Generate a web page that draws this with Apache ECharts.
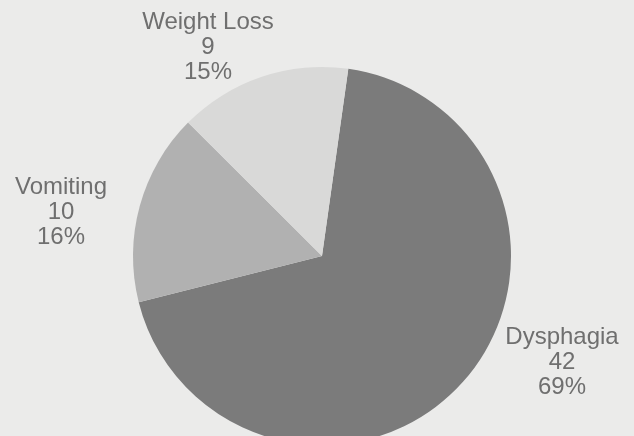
<!DOCTYPE html>
<html>
<head>
<meta charset="utf-8">
<script src="https://cdn.jsdelivr.net/npm/echarts@6/dist/echarts.min.js"></script>
<style>
  html, body { margin: 0; padding: 0; background: #ebebea; }
  #chart { width: 634px; height: 436px; }
</style>
</head>
<body>
<div id="chart"></div>
<script>
// Presenting symptoms
const categories = ['Dysphagia', 'Vomiting', 'Weight Loss'];
const counts = [42, 10, 9];

// Slice shades, darkest for the largest group
const sliceColors = ['#7b7b7b', '#b1b1b1', '#d9d9d8'];

// Where each label block sits (centre of the three-line block)
const labelSpots = [
  { x: 562, y: 362 },
  { x: 61, y: 212 },
  { x: 208, y: 47 }
];

const total = counts.reduce((a, b) => a + b, 0);

const chart = echarts.init(document.getElementById('chart'), null, { renderer: 'canvas' });

chart.setOption({
  backgroundColor: '#ebebea',
  animation: false,
  series: [{
    type: 'pie',
    center: [322, 256],
    radius: [0, 189],
    startAngle: 82,
    clockwise: true,
    avoidLabelOverlap: false,
    data: categories.map((name, i) => ({
      name: name,
      value: counts[i],
      itemStyle: { color: sliceColors[i] }
    })),
    itemStyle: { borderWidth: 0 },
    emphasis: { disabled: true },
    labelLine: { show: false },
    label: {
      show: true,
      position: 'outside',
      fontFamily: 'Liberation Sans, Arial, sans-serif',
      fontSize: 24,
      lineHeight: 25,
      color: '#6f6f6f',
      align: 'center',
      formatter: (p) => p.name + '\n' + p.value + '\n' + Math.round(p.value / total * 100) + '%'
    },
    labelLayout: (params) => {
      const spot = labelSpots[params.dataIndex];
      return { x: spot.x, y: spot.y, align: 'center', verticalAlign: 'middle' };
    }
  }]
});
</script>
</body>
</html>
